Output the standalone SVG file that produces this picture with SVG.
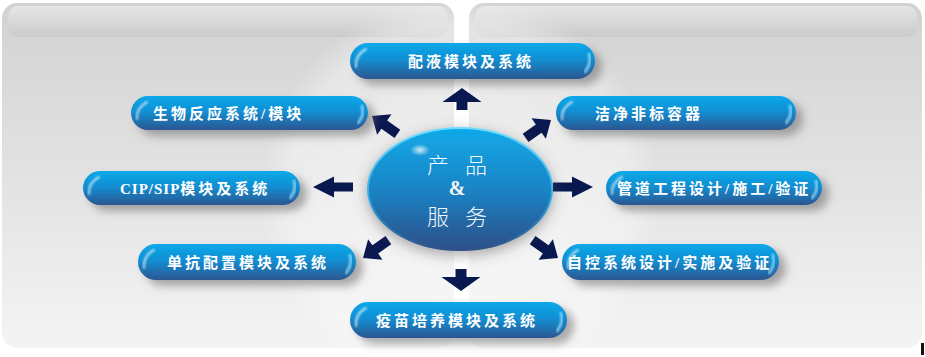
<svg xmlns="http://www.w3.org/2000/svg" width="925" height="357" viewBox="0 0 925 357">
<defs>
<linearGradient id="panel" x1="0" y1="0" x2="0" y2="1">
<stop offset="0" stop-color="#d2d2d2"/><stop offset="0.5" stop-color="#e2e2e2"/><stop offset="1" stop-color="#f4f4f4"/>
</linearGradient>
<linearGradient id="hdr" x1="0" y1="0" x2="0" y2="1">
<stop offset="0" stop-color="#e8e8e8"/><stop offset="1" stop-color="#c9c9c9"/>
</linearGradient>
<radialGradient id="disc" cx="0.5" cy="0.5" r="0.5">
<stop offset="0" stop-color="#ffffff" stop-opacity="0.55"/><stop offset="0.85" stop-color="#ffffff" stop-opacity="0.35"/><stop offset="1" stop-color="#ffffff" stop-opacity="0"/>
</radialGradient>
<linearGradient id="pill" x1="0" y1="0" x2="0" y2="1">
<stop offset="0" stop-color="#08a9ea"/><stop offset="0.45" stop-color="#128fd3"/><stop offset="1" stop-color="#2c5690"/>
</linearGradient>
<linearGradient id="ball" x1="0" y1="0" x2="0" y2="1">
<stop offset="0" stop-color="#10aae9"/><stop offset="0.5" stop-color="#1a84c6"/><stop offset="1" stop-color="#2d4f88"/>
</linearGradient>
<linearGradient id="ballEdge" x1="0" y1="0" x2="0" y2="1">
<stop offset="0" stop-color="#6fdcff"/><stop offset="0.6" stop-color="#2fa8e0"/><stop offset="1" stop-color="#2d4f88"/>
</linearGradient>
<radialGradient id="spot" cx="0.5" cy="0.5" r="0.5">
<stop offset="0" stop-color="#ffffff" stop-opacity="0.8"/><stop offset="1" stop-color="#ffffff" stop-opacity="0"/>
</radialGradient>
<filter id="sh" x="-10%" y="-40%" width="125%" height="190%">
<feDropShadow dx="7" dy="6" stdDeviation="4" flood-color="#6a6a6a" flood-opacity="0.55"/>
</filter>
<filter id="shb" x="-20%" y="-20%" width="140%" height="150%">
<feDropShadow dx="0" dy="4" stdDeviation="7" flood-color="#555" flood-opacity="0.5"/>
</filter>
<filter id="blur2"><feGaussianBlur stdDeviation="1"/></filter>
<path id="aD" d="M0,0 L-15,-12.5 L-15,-5 L-31,-5 L-31,5 L-15,5 L-15,12.5 Z"/>
<path id="aH" d="M0,0 L-21,-10.5 L-21,-4.5 L-40,-4.5 L-40,4.5 L-21,4.5 L-21,10.5 Z"/>
<path id="aV" d="M0,0 L-14,-19.5 L-14,-5.5 L-22,-5.5 L-22,5.5 L-14,5.5 L-14,19.5 Z"/>
</defs>
<style>
.pill{fill:url(#pill);filter:url(#sh)}
.hl{fill:none;stroke:#ffffff;stroke-width:2;stroke-opacity:0.7;stroke-linecap:round;filter:url(#blur2)}
.hr{fill:none;stroke:#9fe6ff;stroke-width:2.5;stroke-opacity:0.85;stroke-linecap:round;filter:url(#blur2)}
.lbl{font-family:"Liberation Serif","Noto Sans CJK SC",serif;font-size:15px;font-weight:bold;fill:#ffffff;letter-spacing:3px}
.ctr{font-family:"Noto Sans CJK SC","Liberation Sans",sans-serif;font-size:22px;font-weight:300;fill:#f4f8fc}
.arr{fill:#0a1850}
</style>
<rect x="0" y="0" width="925" height="357" fill="#ffffff"/>
<g id="background">
<rect x="2" y="3" width="452" height="345" rx="15" fill="url(#panel)"/>
<rect x="469" y="3" width="453" height="345" rx="15" fill="url(#panel)"/>
<rect x="8" y="6" width="440" height="31" rx="10" fill="url(#hdr)" opacity="0.9"/>
<rect x="475" y="6" width="442" height="31" rx="10" fill="url(#hdr)" opacity="0.9"/>
<circle cx="460" cy="195" r="200" fill="url(#disc)"/>
<rect x="455" y="80" width="13" height="240" fill="#ffffff" opacity="0.8"/>
<rect x="921" y="343" width="3" height="12" fill="#111111"/>
</g>
<g id="connectors">
<use href="#aV" class="arr" transform="translate(462,88) rotate(-90)"/>
<use href="#aV" class="arr" transform="translate(461,291) rotate(90)"/>
<use href="#aH" class="arr" transform="translate(313,187) rotate(180)"/>
<use href="#aH" class="arr" transform="translate(593,187)"/>
<use href="#aD" class="arr" transform="translate(372,116) rotate(-145)"/>
<use href="#aD" class="arr" transform="translate(551,120) rotate(-35)"/>
<use href="#aD" class="arr" transform="translate(363,258) rotate(145)"/>
<use href="#aD" class="arr" transform="translate(558,258) rotate(35)"/>
</g>
<g id="center">
<ellipse cx="460" cy="189" rx="92" ry="61" fill="url(#ball)" stroke="url(#ballEdge)" stroke-width="2" filter="url(#shb)"/>
<ellipse cx="420" cy="150" rx="10" ry="6" fill="url(#spot)"/>
<text class="ctr" x="427" y="173" letter-spacing="16">产品</text>
<text x="457" y="195" text-anchor="middle" font-family="Liberation Serif,serif" font-size="20" font-weight="bold" fill="#f4f8fc">&amp;</text>
<text class="ctr" x="427" y="225" letter-spacing="16">服务</text>
</g>
<g id="n1">
<rect class="pill" x="350" y="43" width="245" height="36" rx="18"/>
<path class="hl" d="M366,49 Q355,55 356,67"/>
<path class="hr" d="M589,54 Q592,63 585,72"/>
<text class="lbl" x="408" y="66.5">配液模块及系统</text>
</g>
<g id="n2">
<rect class="pill" x="131" y="96" width="237" height="34" rx="17"/>
<path class="hl" d="M147,102 Q136,108 137,119"/>
<path class="hr" d="M362,106 Q365,115 358,123"/>
<text class="lbl" x="153" y="118.5">生物反应系统/模块</text>
</g>
<g id="n3">
<rect class="pill" x="556" y="96" width="240" height="34" rx="17"/>
<path class="hl" d="M572,102 Q561,108 562,119"/>
<path class="hr" d="M790,106 Q793,115 786,123"/>
<text class="lbl" x="595" y="118.5">洁净非标容器</text>
</g>
<g id="n4">
<rect class="pill" x="83" y="171" width="217" height="34" rx="17"/>
<path class="hl" d="M99,177 Q88,183 89,194"/>
<path class="hr" d="M294,181 Q297,190 290,198"/>
<text class="lbl" x="120" y="193.5"><tspan letter-spacing="1">CIP/SIP</tspan>模块及系统</text>
</g>
<g id="n5">
<rect class="pill" x="606" y="171" width="216" height="34" rx="17"/>
<path class="hl" d="M622,177 Q611,183 612,194"/>
<path class="hr" d="M816,181 Q819,190 812,198"/>
<text class="lbl" x="617" y="193.5">管道工程设计/施工/验证</text>
</g>
<g id="n6">
<rect class="pill" x="138" y="244" width="218" height="36" rx="18"/>
<path class="hl" d="M154,250 Q143,256 144,268"/>
<path class="hr" d="M350,255 Q353,264 346,273"/>
<text class="lbl" x="167" y="267.5">单抗配置模块及系统</text>
</g>
<g id="n7">
<rect class="pill" x="562" y="244" width="217" height="36" rx="18"/>
<path class="hl" d="M578,250 Q567,256 568,268"/>
<path class="hr" d="M773,255 Q776,264 769,273"/>
<text class="lbl" x="567" y="267.5">自控系统设计/实施及验证</text>
</g>
<g id="n8">
<rect class="pill" x="350" y="302" width="217" height="36" rx="18"/>
<path class="hl" d="M366,308 Q355,314 356,326"/>
<path class="hr" d="M561,313 Q564,322 557,331"/>
<text class="lbl" x="376" y="325.5">疫苗培养模块及系统</text>
</g>
</svg>
